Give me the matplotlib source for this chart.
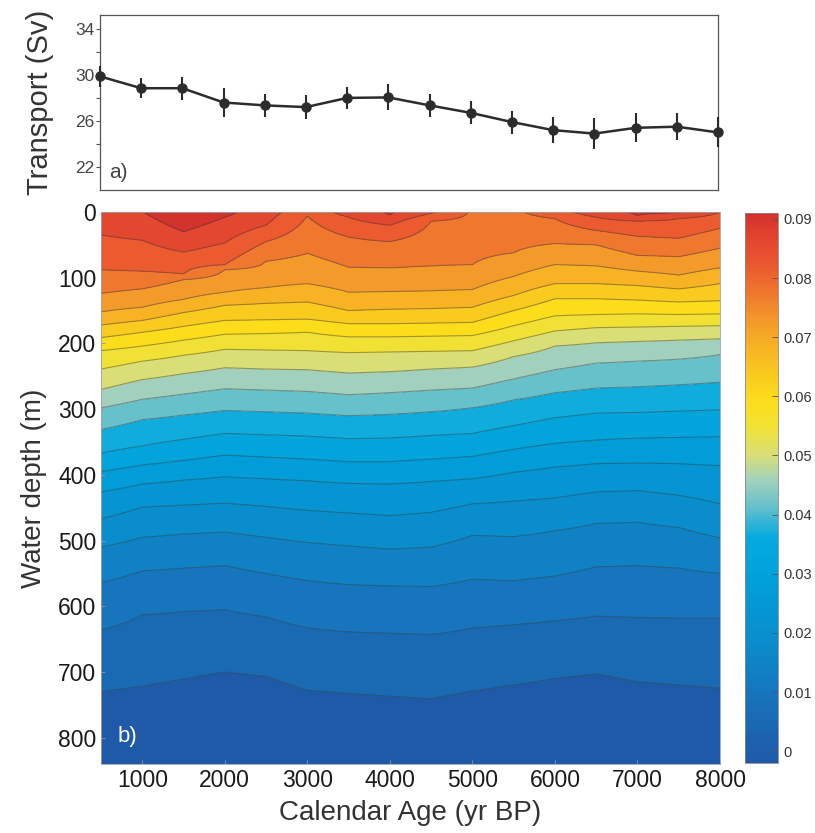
"""Redraw the two-panel transport / water-column figure."""

import matplotlib

matplotlib.use("Agg")

import matplotlib.pyplot as plt
import numpy as np
from matplotlib.cm import ScalarMappable
from matplotlib.colors import LinearSegmentedColormap, Normalize


# Panel a) transport time series
AGES = [500, 1000, 1500, 2000, 2500, 3000, 3500, 4000,
        4500, 5000, 5500, 6000, 6500, 7000, 7500, 8000]
TRANSPORT = [29.87, 28.84, 28.84, 27.6, 27.35, 27.2, 28.0, 28.04,
             27.35, 26.7, 25.9, 25.2, 24.9, 25.4, 25.5, 25.0]
TRANSPORT_ERR = [0.9, 0.85, 1.0, 1.3, 1.0, 1.05, 0.95, 1.13,
                 1.0, 1.0, 1.0, 1.1, 1.35, 1.25, 1.2, 1.3]

# Panel b) contour levels and the depth (m) of each isoline at every age.
# Negative depths mean the isoline lies above the sea surface at that age.
LEVELS = [0.003, 0.0075, 0.012, 0.0165, 0.021, 0.0255, 0.030, 0.0345,
          0.039, 0.0435, 0.048, 0.0525, 0.057, 0.0615, 0.066, 0.0705,
          0.075, 0.0795, 0.084, 0.0885]
ISO_00 = [730, 722, 711, 700, 707, 728, 733, 737, 741, 729, 720, 710, 703, 715, 720, 725]
ISO_01 = [636, 613, 608, 605, 616, 633, 639, 641, 643, 633, 628, 622, 615, 617, 618, 618]
ISO_02 = [564, 546, 542, 538, 550, 561, 567, 569, 570, 559, 561, 554, 540, 538, 542, 550]
ISO_03 = [510, 495, 490, 487, 495, 503, 508, 513, 510, 492, 494, 485, 474, 472, 480, 496]
ISO_04 = [467, 449, 446, 443, 448, 454, 458, 462, 457, 444, 440, 435, 426, 424, 431, 444]
ISO_05 = [426, 414, 408, 403, 406, 409, 413, 414, 410, 406, 396, 388, 383, 382, 383, 386]
ISO_06 = [395, 385, 378, 370, 373, 376, 380, 380, 376, 372, 361, 352, 347, 344, 343, 342]
ISO_07 = [367, 356, 346, 337, 339, 341, 345, 344, 340, 337, 325, 313, 306, 305, 303, 301]
ISO_08 = [331, 316, 309, 302, 304, 306, 310, 308, 304, 298, 286, 275, 268, 266, 263, 259]
ISO_09 = [298, 285, 277, 269, 271, 273, 278, 275, 271, 268, 254, 240, 230, 227, 224, 217]
ISO_10 = [270, 255, 246, 237, 239, 240, 245, 243, 239, 236, 220, 204, 199, 197, 195, 193]
ISO_11 = [239, 227, 218, 209, 210, 211, 214, 213, 212, 211, 196, 181, 176, 175, 174, 173]
ISO_12 = [211, 204, 195, 186, 185, 183, 190, 190, 189, 188, 173, 158, 156, 155, 156, 155]
ISO_13 = [191, 183, 174, 165, 164, 163, 170, 170, 169, 168, 150, 132, 132, 134, 137, 135]
ISO_14 = [172, 165, 153, 142, 139, 137, 150, 148, 147, 145, 127, 109, 109, 112, 117, 109]
ISO_15 = [152, 145, 133, 122, 115, 109, 122, 121, 120, 118, 98, 80, 82, 90, 96, 85]
ISO_16 = [124, 117, 103, 88, 75, 63, 84, 85, 82, 80, 62, 48, 50, 66, 68, 55]
ISO_17 = [88, 90, 94, 80, 45, 6, 38, 45, 14, -10, -15, 10, 28, 37, 40, 25]
ISO_18 = [35, 43, 61, 47, 20, -20, 8, 20, 2, -22, -30, -8, 8, 14, 10, 0]
ISO_19 = [-15, -1, 30, 8, -20, -40, -8, 4, -12, -35, -45, -30, -5, 5, 1, -12]

CMAP_VALUES = [-0.002, 0.005, 0.010, 0.015, 0.020, 0.025, 0.030, 0.036, 0.0385,
               0.041, 0.046, 0.050, 0.055, 0.059, 0.0638, 0.0682, 0.0728, 0.0772,
               0.0818, 0.0862, 0.091]
CMAP_COLORS = ["#1f5aa8", "#1a69b3", "#1676bd", "#0e84c6", "#0890ce", "#0398d5",
               "#00a2da", "#03aadf", "#2fb3d6", "#62bfcc", "#a4d2bc", "#d8de78",
               "#f2e133", "#fbde1b", "#f9ca1e", "#f7b424", "#f49a2b", "#f07a2e",
               "#eb5b2f", "#e4472f", "#d4322c"]
CBAR_TICKS = [0.0, 0.01, 0.02, 0.03, 0.04, 0.05, 0.06, 0.07, 0.08, 0.09]

FONT = ["Liberation Sans", "DejaVu Sans"]
TEXT_COLOR = "#333333"


def build_field():
    """Turn the isoline depths into a gridded field for contourf."""
    isolines = np.array([ISO_00, ISO_01, ISO_02, ISO_03, ISO_04, ISO_05, ISO_06,
                         ISO_07, ISO_08, ISO_09, ISO_10, ISO_11, ISO_12, ISO_13,
                         ISO_14, ISO_15, ISO_16, ISO_17, ISO_18, ISO_19], dtype=float)
    levels = np.array(LEVELS)
    depth_grid = np.arange(-5.0, 861.0, 1.0)
    field = np.empty((depth_grid.size, len(AGES)))
    for column in range(len(AGES)):
        # depth increases while value decreases: reverse so depths ascend
        depths = np.concatenate([[-300.0], isolines[::-1, column], [1200.0]])
        values = np.concatenate([[0.13], levels[::-1], [-0.02]])
        field[:, column] = np.interp(depth_grid, depths, values)
    return depth_grid, field


def main():
    plt.rcParams["font.family"] = FONT
    cmap = LinearSegmentedColormap.from_list(
        "ocean_ramp",
        [((v - CMAP_VALUES[0]) / (CMAP_VALUES[-1] - CMAP_VALUES[0]), c)
         for v, c in zip(CMAP_VALUES, CMAP_COLORS)],
    )
    norm = Normalize(vmin=CMAP_VALUES[0], vmax=CMAP_VALUES[-1])

    fig = plt.figure(figsize=(8.15, 8.33), dpi=100)

    # ---- panel a) ----
    ax_a = fig.add_axes([100 / 815, 1 - 190 / 833, 618 / 815, 175 / 833])
    ax_a.errorbar(AGES, TRANSPORT, yerr=TRANSPORT_ERR, color="#2b2d2b",
                  linewidth=1.8, elinewidth=1.5, marker="o", markersize=6.5,
                  capsize=0, clip_on=False, zorder=3)
    ax_a.set_xlim(500, 8000)
    ax_a.set_ylim(20, 35.2)
    ax_a.set_xticks([])
    ax_a.set_yticks([22, 26, 30, 34])
    ax_a.set_yticks([24, 28, 32], minor=True)
    ax_a.tick_params(axis="y", which="both", direction="out", length=3,
                     width=0.8, colors="#555555", labelsize=12.5,
                     labelcolor="#444444", pad=1)
    ax_a.set_ylabel("Transport (Sv)", fontsize=21, color=TEXT_COLOR, labelpad=15)
    for spine in ax_a.spines.values():
        spine.set_color("#555555")
        spine.set_linewidth(0.9)
    ax_a.text(0.015, 0.1, "a)", transform=ax_a.transAxes, fontsize=15,
              color="#444444", va="center", ha="left")

    # ---- panel b) ----
    depth_grid, field = build_field()
    ax_b = fig.add_axes([101 / 815, 1 - 764 / 833, 619 / 815, 552 / 833])
    fill_levels = [-0.05] + LEVELS + [0.2]
    ax_b.contourf(AGES, depth_grid, field, levels=fill_levels, cmap=cmap, norm=norm)
    ax_b.contour(AGES, depth_grid, field, levels=LEVELS, colors="#3a3a3a",
                 linewidths=0.8, alpha=0.45)
    ax_b.set_xlim(500, 8000)
    ax_b.set_ylim(840, 0)
    ax_b.set_xticks([1000, 2000, 3000, 4000, 5000, 6000, 7000, 8000])
    ax_b.set_yticks([0, 100, 200, 300, 400, 500, 600, 700, 800])
    ax_b.tick_params(axis="both", direction="in", length=3, width=0.6,
                     colors="#8a9ab0", labelsize=16.5, labelcolor="#1a1a1a")
    ax_b.set_xlabel("Calendar Age (yr BP)", fontsize=20, color=TEXT_COLOR, labelpad=6)
    ax_b.set_ylabel("Water depth (m)", fontsize=20, color=TEXT_COLOR, labelpad=8)
    for spine in ax_b.spines.values():
        spine.set_color("#9aa4b0")
        spine.set_linewidth(0.6)
    ax_b.text(0.027, 0.05, "b)", transform=ax_b.transAxes, fontsize=16,
              color="white", va="center", ha="left")

    # ---- colour bar ----
    cax = fig.add_axes([745 / 815, 1 - 763 / 833, 33 / 815, 550 / 833])
    cbar = fig.colorbar(ScalarMappable(norm=norm, cmap=cmap), cax=cax,
                        ticks=CBAR_TICKS)
    cbar.ax.set_yticklabels([f"{t:g}" for t in CBAR_TICKS])
    cbar.ax.tick_params(direction="in", length=4, width=0.6, colors="#555555",
                        labelsize=10.5, labelcolor="#333333", pad=4)
    cbar.outline.set_edgecolor("#888888")
    cbar.outline.set_linewidth(0.6)

    fig.savefig("out.png", dpi=100)
    plt.close(fig)


if __name__ == "__main__":
    main()
